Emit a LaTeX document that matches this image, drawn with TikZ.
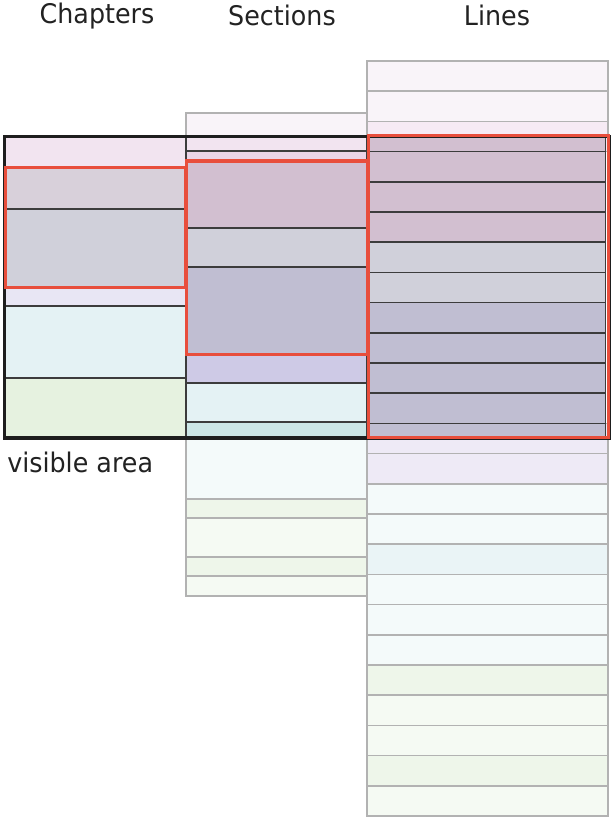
\documentclass[tikz,border=0pt]{standalone}
\usepackage{fontspec}
\usepackage{tikz}
\newfontfamily\labelfont{DejaVu Sans}[FakeStretch=0.94]

\begin{document}
\begin{tikzpicture}[x=0.75pt,y=0.75pt,yscale=-1,xscale=1,
  outrow/.style={draw={rgb, 255:red, 178; green, 178; blue, 178 }, line width=1.1pt},
  inrow/.style={draw={rgb, 255:red, 60; green, 60; blue, 60 }, line width=1.1pt},
  focus/.style={draw={rgb, 255:red, 232; green, 78; blue, 60 }, line width=2.25pt},
  heading/.style={font=\labelfont\fontsize{20.25pt}{24pt}\selectfont, text={rgb, 255:red, 34; green, 34; blue, 34 }, inner sep=0pt}]
\path [use as bounding box] (0,0) rectangle (615,820);

%Shape: Rectangle [sections above view]
\draw [outrow, fill={rgb, 255:red, 249; green, 244; blue, 249 }] (186,113) rectangle (367,138);
%Shape: Rectangle [sections below view]
\draw [outrow, fill={rgb, 255:red, 244; green, 250; blue, 250 }] (186,437.5) rectangle (367,499);
\draw [outrow, fill={rgb, 255:red, 238; green, 246; blue, 234 }] (186,499) rectangle (367,518);
\draw [outrow, fill={rgb, 255:red, 245; green, 250; blue, 243 }] (186,518) rectangle (367,557);
\draw [outrow, fill={rgb, 255:red, 238; green, 246; blue, 234 }] (186,557) rectangle (367,576);
\draw [outrow, fill={rgb, 255:red, 245; green, 250; blue, 243 }] (186,576) rectangle (367,596);

%Shape: Rectangle [lines above view]
\draw [outrow, fill={rgb, 255:red, 249; green, 244; blue, 249 }] (367,61) rectangle (608,91.2);
\draw [outrow, fill={rgb, 255:red, 249; green, 244; blue, 249 }] (367,91.2) rectangle (608,121.4);
\draw [outrow, fill={rgb, 255:red, 246; green, 234; blue, 244 }] (367,121.4) rectangle (608,151.6);
%Shape: Rectangle [lines below view]
\draw [outrow, fill={rgb, 255:red, 238; green, 234; blue, 246 }] (367,423.4) rectangle (608,453.6);
\draw [outrow, fill={rgb, 255:red, 238; green, 234; blue, 246 }] (367,453.6) rectangle (608,483.8);
\draw [outrow, fill={rgb, 255:red, 244; green, 250; blue, 250 }] (367,483.8) rectangle (608,514);
\draw [outrow, fill={rgb, 255:red, 244; green, 250; blue, 250 }] (367,514) rectangle (608,544.2);
\draw [outrow, fill={rgb, 255:red, 234; green, 244; blue, 246 }] (367,544.2) rectangle (608,574.4);
\draw [outrow, fill={rgb, 255:red, 244; green, 250; blue, 250 }] (367,574.4) rectangle (608,604.6);
\draw [outrow, fill={rgb, 255:red, 244; green, 250; blue, 250 }] (367,604.6) rectangle (608,634.8);
\draw [outrow, fill={rgb, 255:red, 244; green, 250; blue, 250 }] (367,634.8) rectangle (608,665);
\draw [outrow, fill={rgb, 255:red, 238; green, 246; blue, 234 }] (367,665) rectangle (608,695.2);
\draw [outrow, fill={rgb, 255:red, 245; green, 250; blue, 243 }] (367,695.2) rectangle (608,725.4);
\draw [outrow, fill={rgb, 255:red, 245; green, 250; blue, 243 }] (367,725.4) rectangle (608,755.6);
\draw [outrow, fill={rgb, 255:red, 238; green, 246; blue, 234 }] (367,755.6) rectangle (608,785.8);
\draw [outrow, fill={rgb, 255:red, 245; green, 250; blue, 243 }] (367,785.8) rectangle (608,816);

%Shape: Rectangle [chapters in view]
\draw [inrow, fill={rgb, 255:red, 242; green, 228; blue, 240 }] (4.5,136.5) rectangle (186,167);
\draw [inrow, fill={rgb, 255:red, 216; green, 208; blue, 218 }] (4.5,167) rectangle (186,209);
\draw [inrow, fill={rgb, 255:red, 208; green, 208; blue, 218 }] (4.5,209) rectangle (186,287.3);
\draw [inrow, fill={rgb, 255:red, 232; green, 230; blue, 244 }] (4.5,287.3) rectangle (186,306);
\draw [inrow, fill={rgb, 255:red, 228; green, 242; blue, 244 }] (4.5,306) rectangle (186,378);
\draw [inrow, fill={rgb, 255:red, 230; green, 242; blue, 224 }] (4.5,378) rectangle (186,437.5);

%Shape: Rectangle [sections in view]
\draw [inrow, fill={rgb, 255:red, 242; green, 228; blue, 240 }] (186,136.5) rectangle (367,151);
\draw [inrow, fill={rgb, 255:red, 234; green, 212; blue, 230 }] (186,151) rectangle (367,161);
\draw [inrow, fill={rgb, 255:red, 210; green, 191; blue, 208 }] (186,161) rectangle (367,228);
\draw [inrow, fill={rgb, 255:red, 208; green, 208; blue, 218 }] (186,228) rectangle (367,267);
\draw [inrow, fill={rgb, 255:red, 192; green, 190; blue, 210 }] (186,267) rectangle (367,354.3);
\draw [inrow, fill={rgb, 255:red, 206; green, 202; blue, 230 }] (186,354.3) rectangle (367,383);
\draw [inrow, fill={rgb, 255:red, 228; green, 242; blue, 244 }] (186,383) rectangle (367,422);
\draw [inrow, fill={rgb, 255:red, 204; green, 230; blue, 230 }] (186,422) rectangle (367,437.5);

%Shape: Rectangle [lines in view]
\draw [inrow, fill={rgb, 255:red, 210; green, 191; blue, 208 }] (367,136.5) rectangle (605.5,151.6);
\draw [inrow, fill={rgb, 255:red, 210; green, 191; blue, 208 }] (367,151.6) rectangle (605.5,181.8);
\draw [inrow, fill={rgb, 255:red, 210; green, 191; blue, 208 }] (367,181.8) rectangle (605.5,212);
\draw [inrow, fill={rgb, 255:red, 210; green, 191; blue, 208 }] (367,212) rectangle (605.5,242.2);
\draw [inrow, fill={rgb, 255:red, 208; green, 208; blue, 218 }] (367,242.2) rectangle (605.5,272.4);
\draw [inrow, fill={rgb, 255:red, 208; green, 208; blue, 218 }] (367,272.4) rectangle (605.5,302.6);
\draw [inrow, fill={rgb, 255:red, 192; green, 190; blue, 210 }] (367,302.6) rectangle (605.5,332.8);
\draw [inrow, fill={rgb, 255:red, 192; green, 190; blue, 210 }] (367,332.8) rectangle (605.5,363);
\draw [inrow, fill={rgb, 255:red, 192; green, 190; blue, 210 }] (367,363) rectangle (605.5,393.2);
\draw [inrow, fill={rgb, 255:red, 192; green, 190; blue, 210 }] (367,393.2) rectangle (605.5,423.4);
\draw [inrow, fill={rgb, 255:red, 192; green, 190; blue, 210 }] (367,423.4) rectangle (605.5,437.5);

%Shape: Rectangle [visible area frame]
\draw [color={rgb, 255:red, 30; green, 30; blue, 30 }, line width=2.6pt] (4.5,136.5) rectangle (609,438);

%Shape: Rectangle [focused parts]
\draw [focus] (5.7,167) rectangle (185.5,287.3);
\draw [focus] (186.5,161) rectangle (367,354.3);
\draw [focus] (368,135.8) rectangle (608,437);

% Text Node
\node (chapters) [heading, anchor=base] at (97,23.5) {Chapters};
% Text Node
\node (sections) [heading, anchor=base] at (282,26) {Sections};
% Text Node
\node (lines) [heading, anchor=base] at (497,26) {Lines};
% Text Node
\node (visible) [heading, anchor=base west] at (7,472) {visible area};

\end{tikzpicture}
\end{document}
